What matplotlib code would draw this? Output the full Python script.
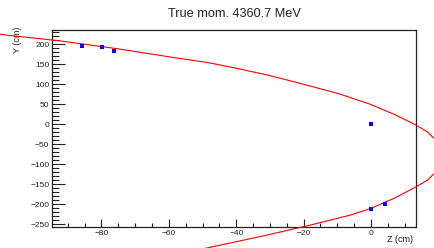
import matplotlib
matplotlib.use("Agg")
import matplotlib.pyplot as plt
from matplotlib.ticker import MultipleLocator

plt.rcParams['font.family'] = ['Liberation Sans', 'DejaVu Sans']

title = "True mom. 4360.7 MeV"
x_label = "Z (cm)"
y_label = "Y (cm)"

# measured hits (Z, Y) in cm
hit_z = [-85.8, -79.8, -76.4, 0.0, 0.0, 4.2]
hit_y = [195.0, 192.5, 183.0, 0.0, -212.0, -201.0]

# fitted track points (Z, Y) in cm
track_z = [-115.0, -108.0, -92.2, -75.0, -59.6, -48.0, -40.3, -31.0, -22.5, -9.6,
           -0.2, 7.0, 13.4, 16.8, 19.3, 21.8, 19.3, 16.8, 13.4, 7.0, 0.0,
           -6.1, -18.0, -30.9, -47.7, -60.0]
track_y = [230.7, 222.0, 207.7, 187.8, 167.6, 153.0, 140.0, 123.0, 105.0, 76.0,
           49.5, 24.0, -2.5, -20.0, -40.0, -80.0, -120.0, -140.0, -157.0,
           -185.0, -210.8, -227.5, -252.5, -277.5, -308.0, -328.0]

x_range = (-94.7, 13.4)
y_range = (-256.0, 235.0)

fig = plt.figure(figsize=(4.35, 2.48), dpi=100)
ax = fig.add_axes([52/435, 1-226.5/248, (416-52)/435, (226.5-30)/248])

ax.plot(track_z, track_y, color=(1, 0, 0), lw=0.8, clip_on=False, zorder=3)
ax.plot(hit_z, hit_y, linestyle='none', marker='s', markersize=2.8,
        color=(0, 0, 1), markeredgewidth=0, zorder=4)

ax.set_xlim(*x_range)
ax.set_ylim(*y_range)

ax.xaxis.set_major_locator(MultipleLocator(20))
ax.xaxis.set_minor_locator(MultipleLocator(5))
ax.yaxis.set_major_locator(MultipleLocator(50))
ax.yaxis.set_minor_locator(MultipleLocator(10))

ax.tick_params(axis='both', which='both', direction='in', top=False, right=False,
               labelsize=6, colors='#222222', width=0.8)
ax.tick_params(axis='x', which='major', length=6, pad=2.5)
ax.tick_params(axis='x', which='minor', length=3)
ax.tick_params(axis='y', which='major', length=9, pad=2)
ax.tick_params(axis='y', which='minor', length=5)

for s in ax.spines.values():
    s.set_linewidth(0.9)
    s.set_color('#222222')

fig.text(234/435, 1-14/248, title, ha='center', va='center', fontsize=9.2,
         color='#222222')
fig.text(413/435, 1-240/248, x_label, ha='right', va='center', fontsize=6.5,
         color='#222222')
fig.text(18/435, 1-27/248, y_label, ha='center', va='top', rotation=90,
         fontsize=6.5, color='#222222')

fig.savefig("out.png", dpi=100)
